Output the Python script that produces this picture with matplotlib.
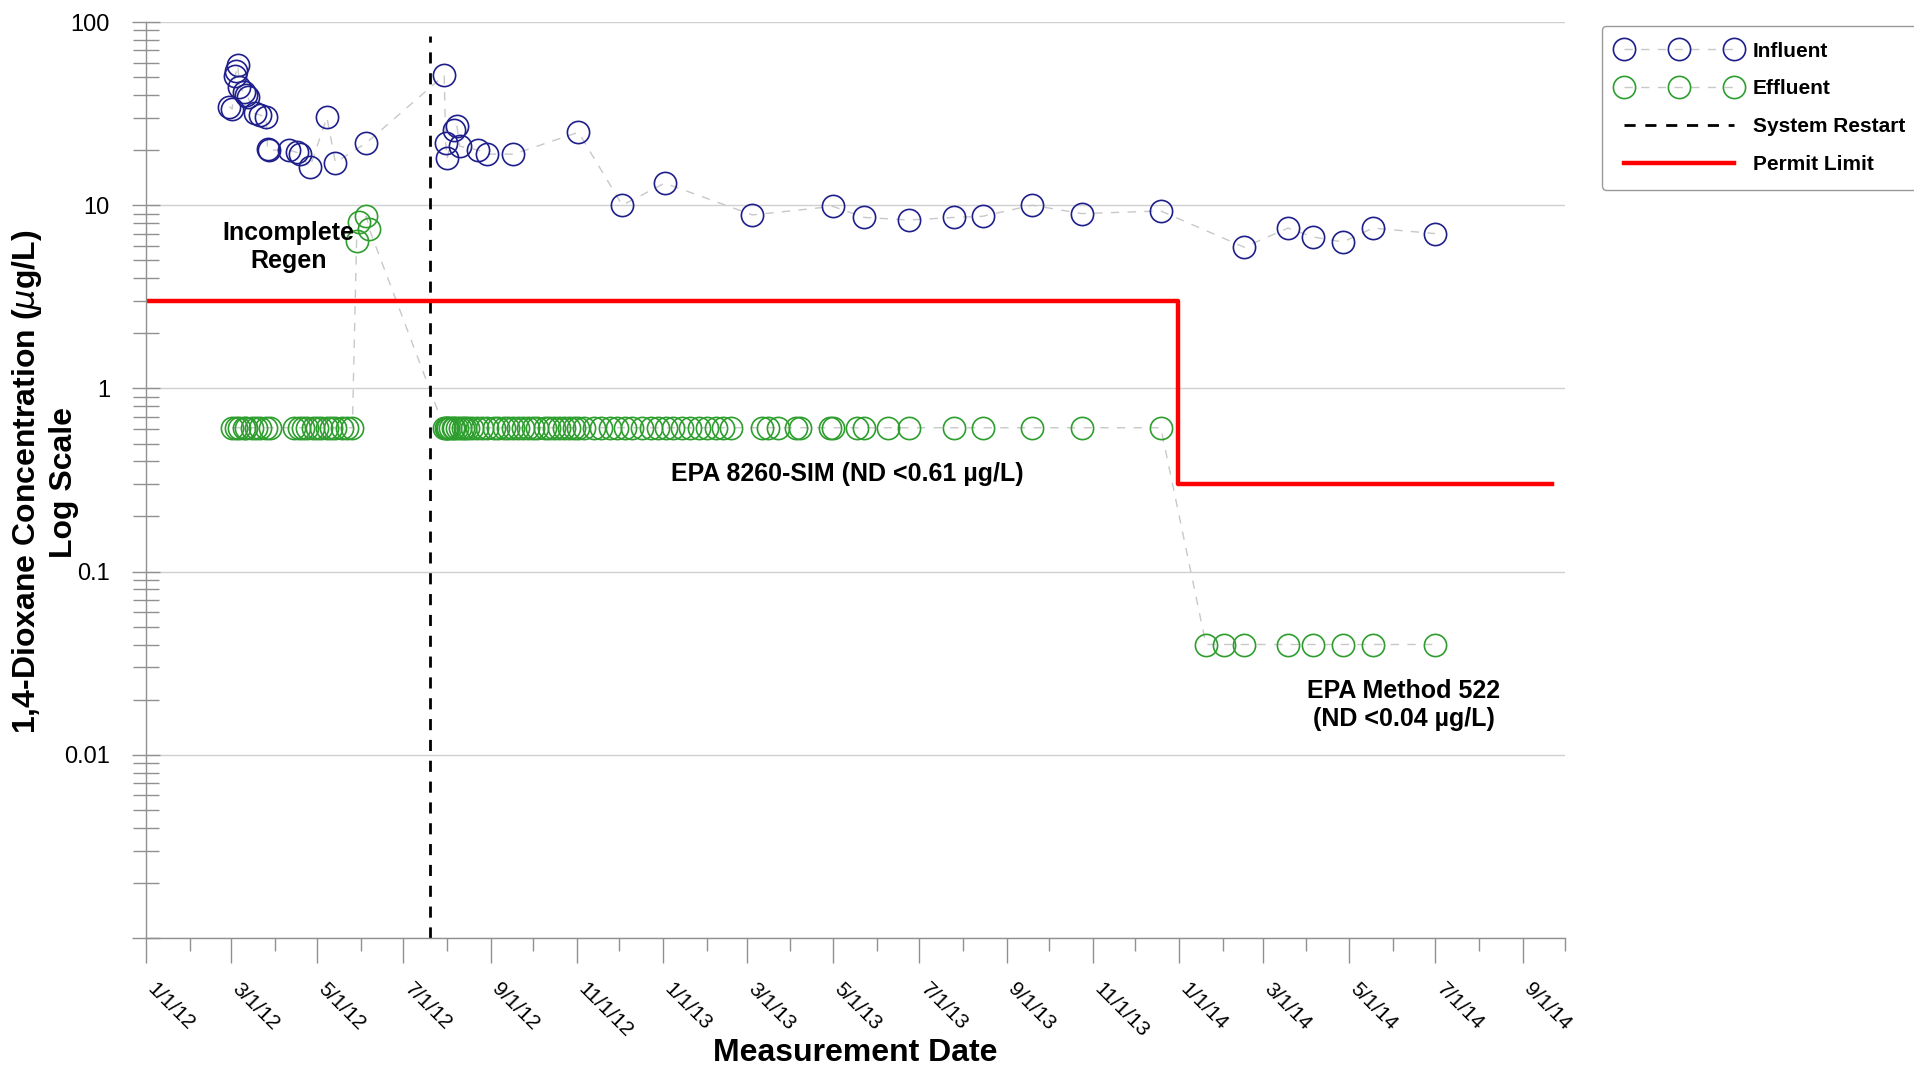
import numpy as np
import pandas as pd
import matplotlib
matplotlib.use("Agg")
import matplotlib.pyplot as plt
import matplotlib.dates as mdates
import matplotlib.ticker as mticker
from matplotlib.transforms import ScaledTranslation

plt.rcParams['font.family'] = ['Liberation Sans', 'DejaVu Sans']

# Influent 1,4-dioxane (ug/L)
inf_dates = ['2012-02-29', '2012-03-02', '2012-03-04', '2012-03-05', '2012-03-06',
             '2012-03-07', '2012-03-10', '2012-03-12', '2012-03-13', '2012-03-18',
             '2012-03-22', '2012-03-26', '2012-03-27', '2012-03-28', '2012-04-11',
             '2012-04-17', '2012-04-19', '2012-04-26', '2012-05-08', '2012-05-14',
             '2012-06-05', '2012-07-30', '2012-07-31', '2012-08-01', '2012-08-06',
             '2012-08-08', '2012-08-10', '2012-08-23', '2012-08-29', '2012-09-17',
             '2012-11-02', '2012-12-03', '2013-01-02', '2013-03-05', '2013-05-01',
             '2013-05-23', '2013-06-24', '2013-07-26', '2013-08-15', '2013-09-19',
             '2013-10-24', '2013-12-19', '2014-02-16', '2014-03-19', '2014-04-06',
             '2014-04-27', '2014-05-18', '2014-07-01']
inf_vals = [34.5, 33.5, 50.5, 54, 58,
            44.3, 41.7, 40, 39, 31.7,
            31, 30.2, 20.2, 20, 20,
            19.4, 19, 16.1, 30.2, 17.1,
            21.9, 51.2, 21.9, 18, 25.7,
            27, 21, 20, 19, 19,
            25, 10, 13.2, 8.85, 9.85,
            8.58, 8.3, 8.58, 8.7, 10,
            9, 9.3, 5.9, 7.5, 6.7,
            6.3, 7.5, 7.0]

# Effluent non-detects, EPA 8260-SIM (reported at 0.61 ug/L)
eff_nd_dates = ['2012-03-02', '2012-03-05', '2012-03-07', '2012-03-10', '2012-03-12',
                '2012-03-16', '2012-03-19', '2012-03-22', '2012-03-26', '2012-03-29',
                '2012-04-15', '2012-04-18', '2012-04-21', '2012-04-24', '2012-04-28',
                '2012-05-01', '2012-05-04', '2012-05-08', '2012-05-11', '2012-05-14',
                '2012-05-19', '2012-05-22', '2012-05-26',
                '2012-07-30', '2012-07-31', '2012-08-01', '2012-08-02', '2012-08-03',
                '2012-08-05', '2012-08-06', '2012-08-08', '2012-08-10', '2012-08-12',
                '2012-08-14', '2012-08-16', '2012-08-19', '2012-08-22', '2012-08-26',
                '2012-08-29', '2012-09-03', '2012-09-06', '2012-09-10', '2012-09-13',
                '2012-09-17', '2012-09-20', '2012-09-24', '2012-09-27', '2012-10-01',
                '2012-10-04', '2012-10-09', '2012-10-12', '2012-10-16', '2012-10-19',
                '2012-10-23', '2012-10-26', '2012-10-30', '2012-11-02', '2012-11-06',
                '2012-11-13', '2012-11-18', '2012-11-24', '2012-11-29', '2012-12-05',
                '2012-12-10', '2012-12-17', '2012-12-23', '2012-12-28', '2013-01-03',
                '2013-01-08', '2013-01-14', '2013-01-20', '2013-01-26', '2013-02-01',
                '2013-02-07', '2013-02-12', '2013-02-18', '2013-03-12', '2013-03-16',
                '2013-03-23', '2013-04-05', '2013-04-08', '2013-04-29', '2013-05-01',
                '2013-05-18', '2013-05-23', '2013-06-09', '2013-06-24', '2013-07-26',
                '2013-08-15', '2013-09-19', '2013-10-24', '2013-12-19']
eff_nd_level = 0.61

# Effluent detections during the incomplete regeneration
eff_regen_dates = ['2012-05-29', '2012-05-31', '2012-06-05', '2012-06-07']
eff_regen_vals = [6.4, 8.1, 8.7, 7.4]

# Effluent non-detects, EPA Method 522 (reported at 0.04 ug/L)
eff_522_dates = ['2014-01-20', '2014-02-02', '2014-02-16', '2014-03-19', '2014-04-06',
                 '2014-04-27', '2014-05-18', '2014-07-01']
eff_522_level = 0.04

restart_date = '2012-07-20'
permit_dates = ['2012-01-01', '2013-12-31', '2014-09-22']
permit_limits = [3.0, 0.3]

inf = pd.DataFrame({'date': pd.to_datetime(inf_dates), 'val': inf_vals}).sort_values('date')
eff = pd.concat([
    pd.DataFrame({'date': pd.to_datetime(eff_nd_dates), 'val': eff_nd_level}),
    pd.DataFrame({'date': pd.to_datetime(eff_regen_dates), 'val': eff_regen_vals}),
    pd.DataFrame({'date': pd.to_datetime(eff_522_dates), 'val': eff_522_level}),
]).sort_values('date', kind='stable')

navy = '#1f1f8c'
green = '#2e9e2e'
conn = '#c8c8c8'

fig = plt.figure(figsize=(19.15, 10.67), dpi=100)
ax = fig.add_axes([0.07624, 0.12090, 0.74099, 0.85848])

ax.plot(inf['date'], inf['val'], ls=(0, (6, 6)), lw=1.0, color=conn,
        marker='o', ms=16, mfc='none', mec=navy, mew=1.2, label='Influent')
ax.plot(eff['date'], eff['val'], ls=(0, (6, 6)), lw=1.0, color=conn,
        marker='o', ms=16, mfc='none', mec=green, mew=1.2, label='Effluent')

ax.axvline(pd.Timestamp(restart_date), ymin=0, ymax=0.985, color='black',
           lw=2.0, ls=(0, (4, 3.5)), label='System Restart')

pdt = pd.to_datetime(permit_dates)
ax.plot([pdt[0], pdt[1], pdt[1], pdt[2]],
        [permit_limits[0], permit_limits[0], permit_limits[1], permit_limits[1]],
        color='red', lw=3.2, label='Permit Limit')

ax.set_yscale('log')
ax.set_ylim(1e-3, 1e2)
ax.set_xlim(pd.Timestamp('2012-01-01'), pd.Timestamp('2014-10-01'))

ax.set_yticks([1e-3, 1e-2, 1e-1, 1, 10, 100], ['', '0.01', '0.1', '1', '10', '100'])
ax.yaxis.set_minor_locator(mticker.LogLocator(base=10, subs=np.arange(2, 10), numticks=20))
ax.yaxis.set_minor_formatter(mticker.NullFormatter())
ax.grid(axis='y', which='major', color='#d0d0d0', lw=1.0)

ax.xaxis.set_major_locator(mdates.MonthLocator(bymonth=[1, 3, 5, 7, 9, 11]))
ax.xaxis.set_minor_locator(mdates.MonthLocator())
ax.xaxis.set_major_formatter(mticker.FuncFormatter(
    lambda v, p: '{d.month}/{d.day}/{y}'.format(d=mdates.num2date(v), y=mdates.num2date(v).strftime('%y'))))

for s in ['top', 'right']:
    ax.spines[s].set_visible(False)
for s in ['left', 'bottom']:
    ax.spines[s].set_color('#909090')
    ax.spines[s].set_linewidth(1.0)

ax.tick_params(axis='y', which='major', direction='inout', length=20, width=1,
               color='#909090', labelsize=17, pad=16)
ax.tick_params(axis='y', which='minor', direction='inout', length=19, width=1, color='#909090')
ax.tick_params(axis='x', which='major', direction='out', length=18, width=1,
               color='#909090', labelsize=15, pad=12)
ax.tick_params(axis='x', which='minor', direction='out', length=9, width=1, color='#909090')

off = ScaledTranslation(8 / 72, 0, fig.dpi_scale_trans)
for lab in ax.get_xticklabels():
    lab.set_rotation(-45)
    lab.set_rotation_mode('anchor')
    lab.set_ha('left')
    lab.set_va('top')
    lab.set_transform(lab.get_transform() + off)

ax.text(pd.Timestamp('2012-04-11'), 5.9, 'Incomplete\nRegen', fontsize=18,
        fontweight='bold', ha='center', va='center', multialignment='center')
ax.text(pd.Timestamp('2013-05-11'), 0.34, 'EPA 8260-SIM (ND <0.61 \u00b5g/L)', fontsize=18,
        fontweight='bold', ha='center', va='center')
ax.text(pd.Timestamp('2014-06-09'), 0.0187, 'EPA Method 522\n(ND <0.04 \u00b5g/L)', fontsize=18,
        fontweight='bold', ha='center', va='center', multialignment='center')

fig.text(0.4465, 0.013, 'Measurement Date', fontsize=23, fontweight='bold',
         ha='center', va='center')
fig.text(0.0232, 0.548, '1,4-Dioxane Concentration ($\\mu$g/L)\nLog Scale', fontsize=23,
         fontweight='bold', rotation=90, ha='center', va='center', multialignment='center')

leg = fig.legend(loc='upper left', bbox_to_anchor=(1602 / 1915, 1 - 26 / 1067),
                 borderaxespad=0, numpoints=3, handlelength=5.9, handletextpad=0.6,
                 labelspacing=0.9, borderpad=0.75, fancybox=True, framealpha=1,
                 edgecolor='#999999', prop={'size': 15, 'weight': 'bold'})
leg.get_frame().set_linewidth(1.0)

fig.savefig('out.png', dpi=100)
